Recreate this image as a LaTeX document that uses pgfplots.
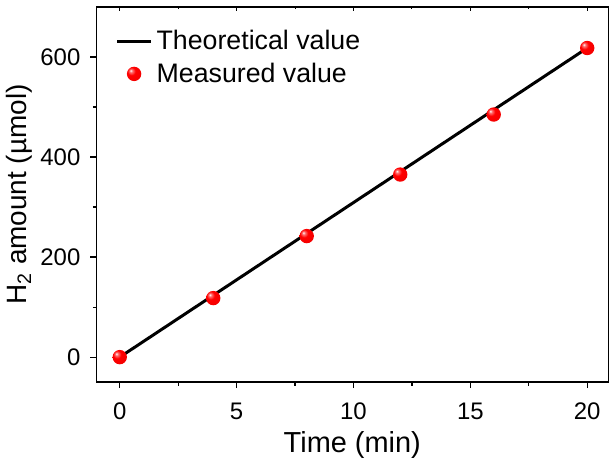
\documentclass[border=0pt]{standalone}
\usepackage{fontspec}
\setmainfont{Liberation Sans}
\usepackage{pgfplots}
\pgfplotsset{compat=1.18}

% bright red ball with a highlight at the upper left
\pgfdeclareradialshading{redballshading}{\pgfpoint{-12bp}{12bp}}{%
    color(0bp)=(white);
    color(5bp)=(red!55!white);
    color(14bp)=(red);
    color(45bp)=(red!92!black);
    color(60bp)=(red!80!black)}
\pgfdeclareplotmark{redball}{%
    \pgfpathcircle{\pgfpointorigin}{\pgfplotmarksize}%
    \pgfshadepath{redballshading}{0}%
    \pgfusepath{}}

\begin{document}
\begin{tikzpicture}
\begin{axis}[
    name=main,
    scale only axis,
    width=256.5pt,
    height=188pt,
    xmin=-1, xmax=20.9,
    ymin=-50, ymax=700,
    xtick={0,5,10,15,20},
    ytick={0,200,400,600},
    minor x tick num=1,
    minor y tick num=1,
    tick align=outside,
    xtick pos=bottom,
    ytick pos=left,
    major tick length=3pt,
    minor tick length=1.7pt,
    axis line style={line width=0.75pt},
    every tick/.style={line width=0.6pt, black},
    tick label style={font=\fontsize{12}{14}\selectfont},
    xticklabel style={yshift=-4pt},
    yticklabel style={xshift=-1.5pt},
    /pgf/number format/assume math mode=true,
    xlabel={Time (min)},
    ylabel={H\textsubscript{2} amount (µmol)},
    xlabel style={font=\fontsize{14.5}{17}\selectfont, yshift=1pt},
    ylabel style={font=\fontsize{14}{17}\selectfont, yshift=-3pt},
    legend style={
        at={(0.025,0.96)},
        anchor=north west,
        draw=none,
        fill=none,
        font=\fontsize{13.4}{16}\selectfont,
        row sep=1pt
    },
    legend cell align=left
]

% theoretical line
\addplot[black, line width=1.5pt] coordinates {
    (0, 0)
    (20, 618)
};
\addlegendentry{Theoretical value}

% measured points
\addplot[only marks, mark=redball, mark size=3.6pt] coordinates {
    (0, 0)
    (4, 118)
    (8, 242)
    (12, 365)
    (16, 485)
    (20, 618)
};
\addlegendentry{Measured value}

\end{axis}

% top ticks pointing inward (kept out of the bounding box)
\begin{axis}[
    overlay,
    scale only axis,
    width=256.5pt,
    height=188pt,
    xmin=-1, xmax=20.9,
    ymin=-50, ymax=700,
    axis x line*=top,
    axis y line*=right,
    xtick={0,5,10,15,20},
    minor x tick num=1,
    ytick=\empty,
    xticklabels={},
    tick align=inside,
    major tick length=2pt,
    minor tick length=1.2pt,
    axis line style={line width=0.75pt},
    every tick/.style={line width=0.5pt, black}
]
\end{axis}

% a little white space above the frame
\path ([yshift=3.5pt]main.north);
\end{tikzpicture}
\end{document}
